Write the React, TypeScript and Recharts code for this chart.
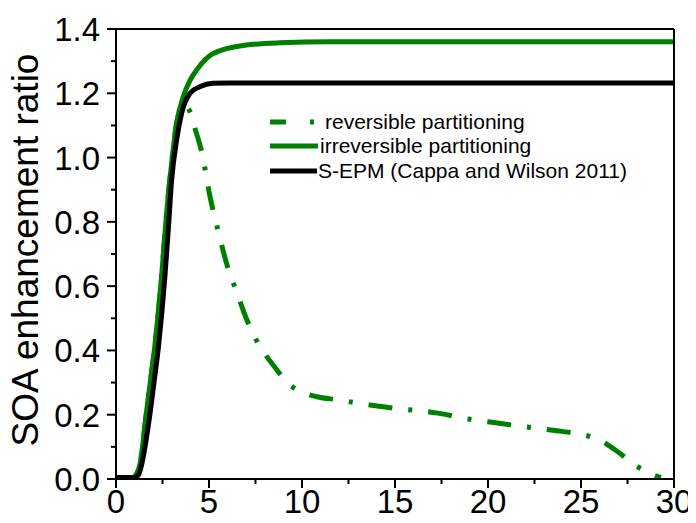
import { Legend, Line, LineChart, XAxis, YAxis } from "recharts";

const X_TICKS = [0, 2.5, 5, 7.5, 10, 12.5, 15, 17.5, 20, 22.5, 25, 27.5, 30];
const Y_TICKS = [0, 0.1, 0.2, 0.3, 0.4, 0.5, 0.6, 0.7, 0.8, 0.9, 1.0, 1.1, 1.2, 1.3, 1.4];

const SERIES_NAMES = [
  "reversible partitioning",
  "irreversible partitioning",
  "S-EPM (Cappa and Wilson 2011)",
];

// reversible partitioning (dash-dot)
const REV_X = [0, 0.9, 1.1, 1.3, 1.4, 1.63, 1.86, 2.08, 2.27, 2.45, 2.72, 2.99, 3.26, 3.5, 3.75, 4.0, 4.25, 4.6, 5.05, 5.5, 6.0, 6.5, 7.0, 7.5, 8.0, 8.6, 9.2, 9.7, 10.8, 12, 13, 15, 17.3, 18.9, 20.5, 22.1, 23.7, 24.9, 25.9, 26.9, 28, 28.6, 29.1, 29.3];
const REV_Y = [0.005, 0.005, 0.015, 0.05, 0.09, 0.204, 0.308, 0.41, 0.515, 0.63, 0.826, 0.982, 1.107, 1.15, 1.16, 1.14, 1.09, 1.02, 0.88, 0.77, 0.66, 0.58, 0.5, 0.437, 0.39, 0.343, 0.3, 0.278, 0.256, 0.246, 0.236, 0.22, 0.205, 0.187, 0.174, 0.162, 0.15, 0.14, 0.124, 0.088, 0.04, 0.02, 0.008, 0.005];

// irreversible partitioning
const IRR_X = [0, 0.9, 1.1, 1.3, 1.4, 1.63, 1.86, 2.08, 2.27, 2.45, 2.72, 2.99, 3.26, 3.62, 3.98, 4.34, 5.23, 7.0, 8.8, 11.5, 30];
const IRR_Y = [0.005, 0.005, 0.015, 0.05, 0.09, 0.204, 0.308, 0.41, 0.515, 0.63, 0.826, 0.982, 1.107, 1.19, 1.24, 1.273, 1.324, 1.35, 1.357, 1.36, 1.36];

// S-EPM
const SEPM_X = [0, 1.0, 1.2, 1.4, 1.56, 1.83, 2.06, 2.28, 2.46, 2.63, 2.81, 2.99, 3.26, 3.53, 3.98, 4.5, 5.2, 6.0, 30];
const SEPM_Y = [0.005, 0.005, 0.012, 0.05, 0.1, 0.204, 0.308, 0.41, 0.515, 0.63, 0.775, 0.93, 1.055, 1.138, 1.2, 1.22, 1.231, 1.232, 1.232];

const FONT = "Liberation Sans, Arimo, Arial, sans-serif";
const GREEN = "#008000";
const DASH_DOT = "24 16 4 16";

function zip(xs: number[], ys: number[]) {
  return xs.map((x, i) => ({ x, y: ys[i] }));
}

const isMajorX = (v: number) => v % 5 === 0;
const isMajorY = (v: number) => Math.round(v * 10) % 2 === 0;

function BottomTick({ x, y, payload }: any) {
  const v = payload.value;
  const major = isMajorX(v);
  return (
    <g>
      <line x1={x} x2={x} y1={y} y2={y + (major ? 9 : 5)} stroke="#000" strokeWidth={2} />
      {major && (
        <text x={x} y={y + 34} textAnchor="middle" fontSize={33} fontFamily={FONT} fill="#000">
          {v}
        </text>
      )}
    </g>
  );
}

function TopTick({ x, y, payload }: any) {
  const major = isMajorX(payload.value);
  return <line x1={x} x2={x} y1={y} y2={y - (major ? 9 : 5)} stroke="#000" strokeWidth={2} />;
}

function LeftTick({ x, y, payload }: any) {
  const v = payload.value;
  const major = isMajorY(v);
  return (
    <g>
      <line x1={x} x2={x - (major ? 9 : 5)} y1={y} y2={y} stroke="#000" strokeWidth={2} />
      {major && (
        <text x={x - 16} y={y + 12} textAnchor="end" fontSize={33} fontFamily={FONT} fill="#000">
          {v.toFixed(1)}
        </text>
      )}
    </g>
  );
}

function RightTick({ x, y, payload }: any) {
  const major = isMajorY(payload.value);
  return <line x1={x} x2={x + (major ? 9 : 5)} y1={y} y2={y} stroke="#000" strokeWidth={2} />;
}

function YLabel() {
  return (
    <text
      x={38}
      y={250}
      transform="rotate(-90 38 250)"
      textAnchor="middle"
      fontSize={37}
      fontFamily={FONT}
      fill="#000"
    >
      SOA enhancement ratio
    </text>
  );
}

function LegendBox() {
  const icons = [
    <svg width={55} height={10}>
      <line x1={0} x2={44} y1={5} y2={5} stroke={GREEN} strokeWidth={5} strokeDasharray="16 24 4 100" />
    </svg>,
    <svg width={50} height={10}>
      <line x1={0} x2={48} y1={5} y2={5} stroke={GREEN} strokeWidth={5} />
    </svg>,
    <svg width={48} height={10}>
      <line x1={0} x2={47} y1={5} y2={5} stroke="#000" strokeWidth={5} />
    </svg>,
  ];
  return (
    <div style={{ fontFamily: FONT, fontSize: 21, color: "#000" }}>
      {SERIES_NAMES.map((name, i) => (
        <div key={name} style={{ display: "flex", alignItems: "center", height: 24.5, whiteSpace: "nowrap" }}>
          {icons[i]}
          <span>{name}</span>
        </div>
      ))}
    </div>
  );
}

export default function App() {
  const axisLine = { stroke: "#000", strokeWidth: 2 };
  return (
    <div style={{ margin: -8 }}>
      <LineChart width={696} height={523} margin={{ top: 0, right: 0, bottom: 0, left: 0 }}>
        <XAxis
          dataKey="x"
          type="number"
          domain={[0, 30]}
          ticks={X_TICKS}
          interval={0}
          tickSize={0}
          tickMargin={0}
          tick={BottomTick}
          axisLine={axisLine}
          height={44}
          allowDataOverflow
        />
        <XAxis
          xAxisId="top"
          orientation="top"
          type="number"
          domain={[0, 30]}
          ticks={X_TICKS}
          interval={0}
          tickSize={0}
          tickMargin={0}
          tick={TopTick}
          axisLine={axisLine}
          height={29}
        />
        <YAxis
          type="number"
          domain={[0, 1.4]}
          ticks={Y_TICKS}
          interval={0}
          tickSize={0}
          tickMargin={0}
          tick={LeftTick}
          axisLine={axisLine}
          width={116}
          allowDataOverflow
          label={<YLabel />}
        />
        <YAxis
          yAxisId="right"
          orientation="right"
          type="number"
          domain={[0, 1.4]}
          ticks={Y_TICKS}
          interval={0}
          tickSize={0}
          tickMargin={0}
          tick={RightTick}
          axisLine={axisLine}
          width={22}
        />
        <Legend
          layout="vertical"
          align="center"
          verticalAlign="middle"
          content={<LegendBox />}
          wrapperStyle={{ top: 109.5, left: 270, width: 400 }}
        />
        <Line
          data={zip(REV_X, REV_Y)}
          dataKey="y"
          name={SERIES_NAMES[0]}
          type="monotone"
          stroke={GREEN}
          strokeWidth={5}
          strokeDasharray={DASH_DOT}
          dot={false}
          activeDot={false}
          isAnimationActive={false}
        />
        <Line
          data={zip(IRR_X, IRR_Y)}
          dataKey="y"
          name={SERIES_NAMES[1]}
          type="monotone"
          stroke={GREEN}
          strokeWidth={5}
          dot={false}
          activeDot={false}
          isAnimationActive={false}
        />
        <Line
          data={zip(SEPM_X, SEPM_Y)}
          dataKey="y"
          name={SERIES_NAMES[2]}
          type="monotone"
          stroke="#000"
          strokeWidth={5}
          dot={false}
          activeDot={false}
          isAnimationActive={false}
        />
      </LineChart>
    </div>
  );
}
